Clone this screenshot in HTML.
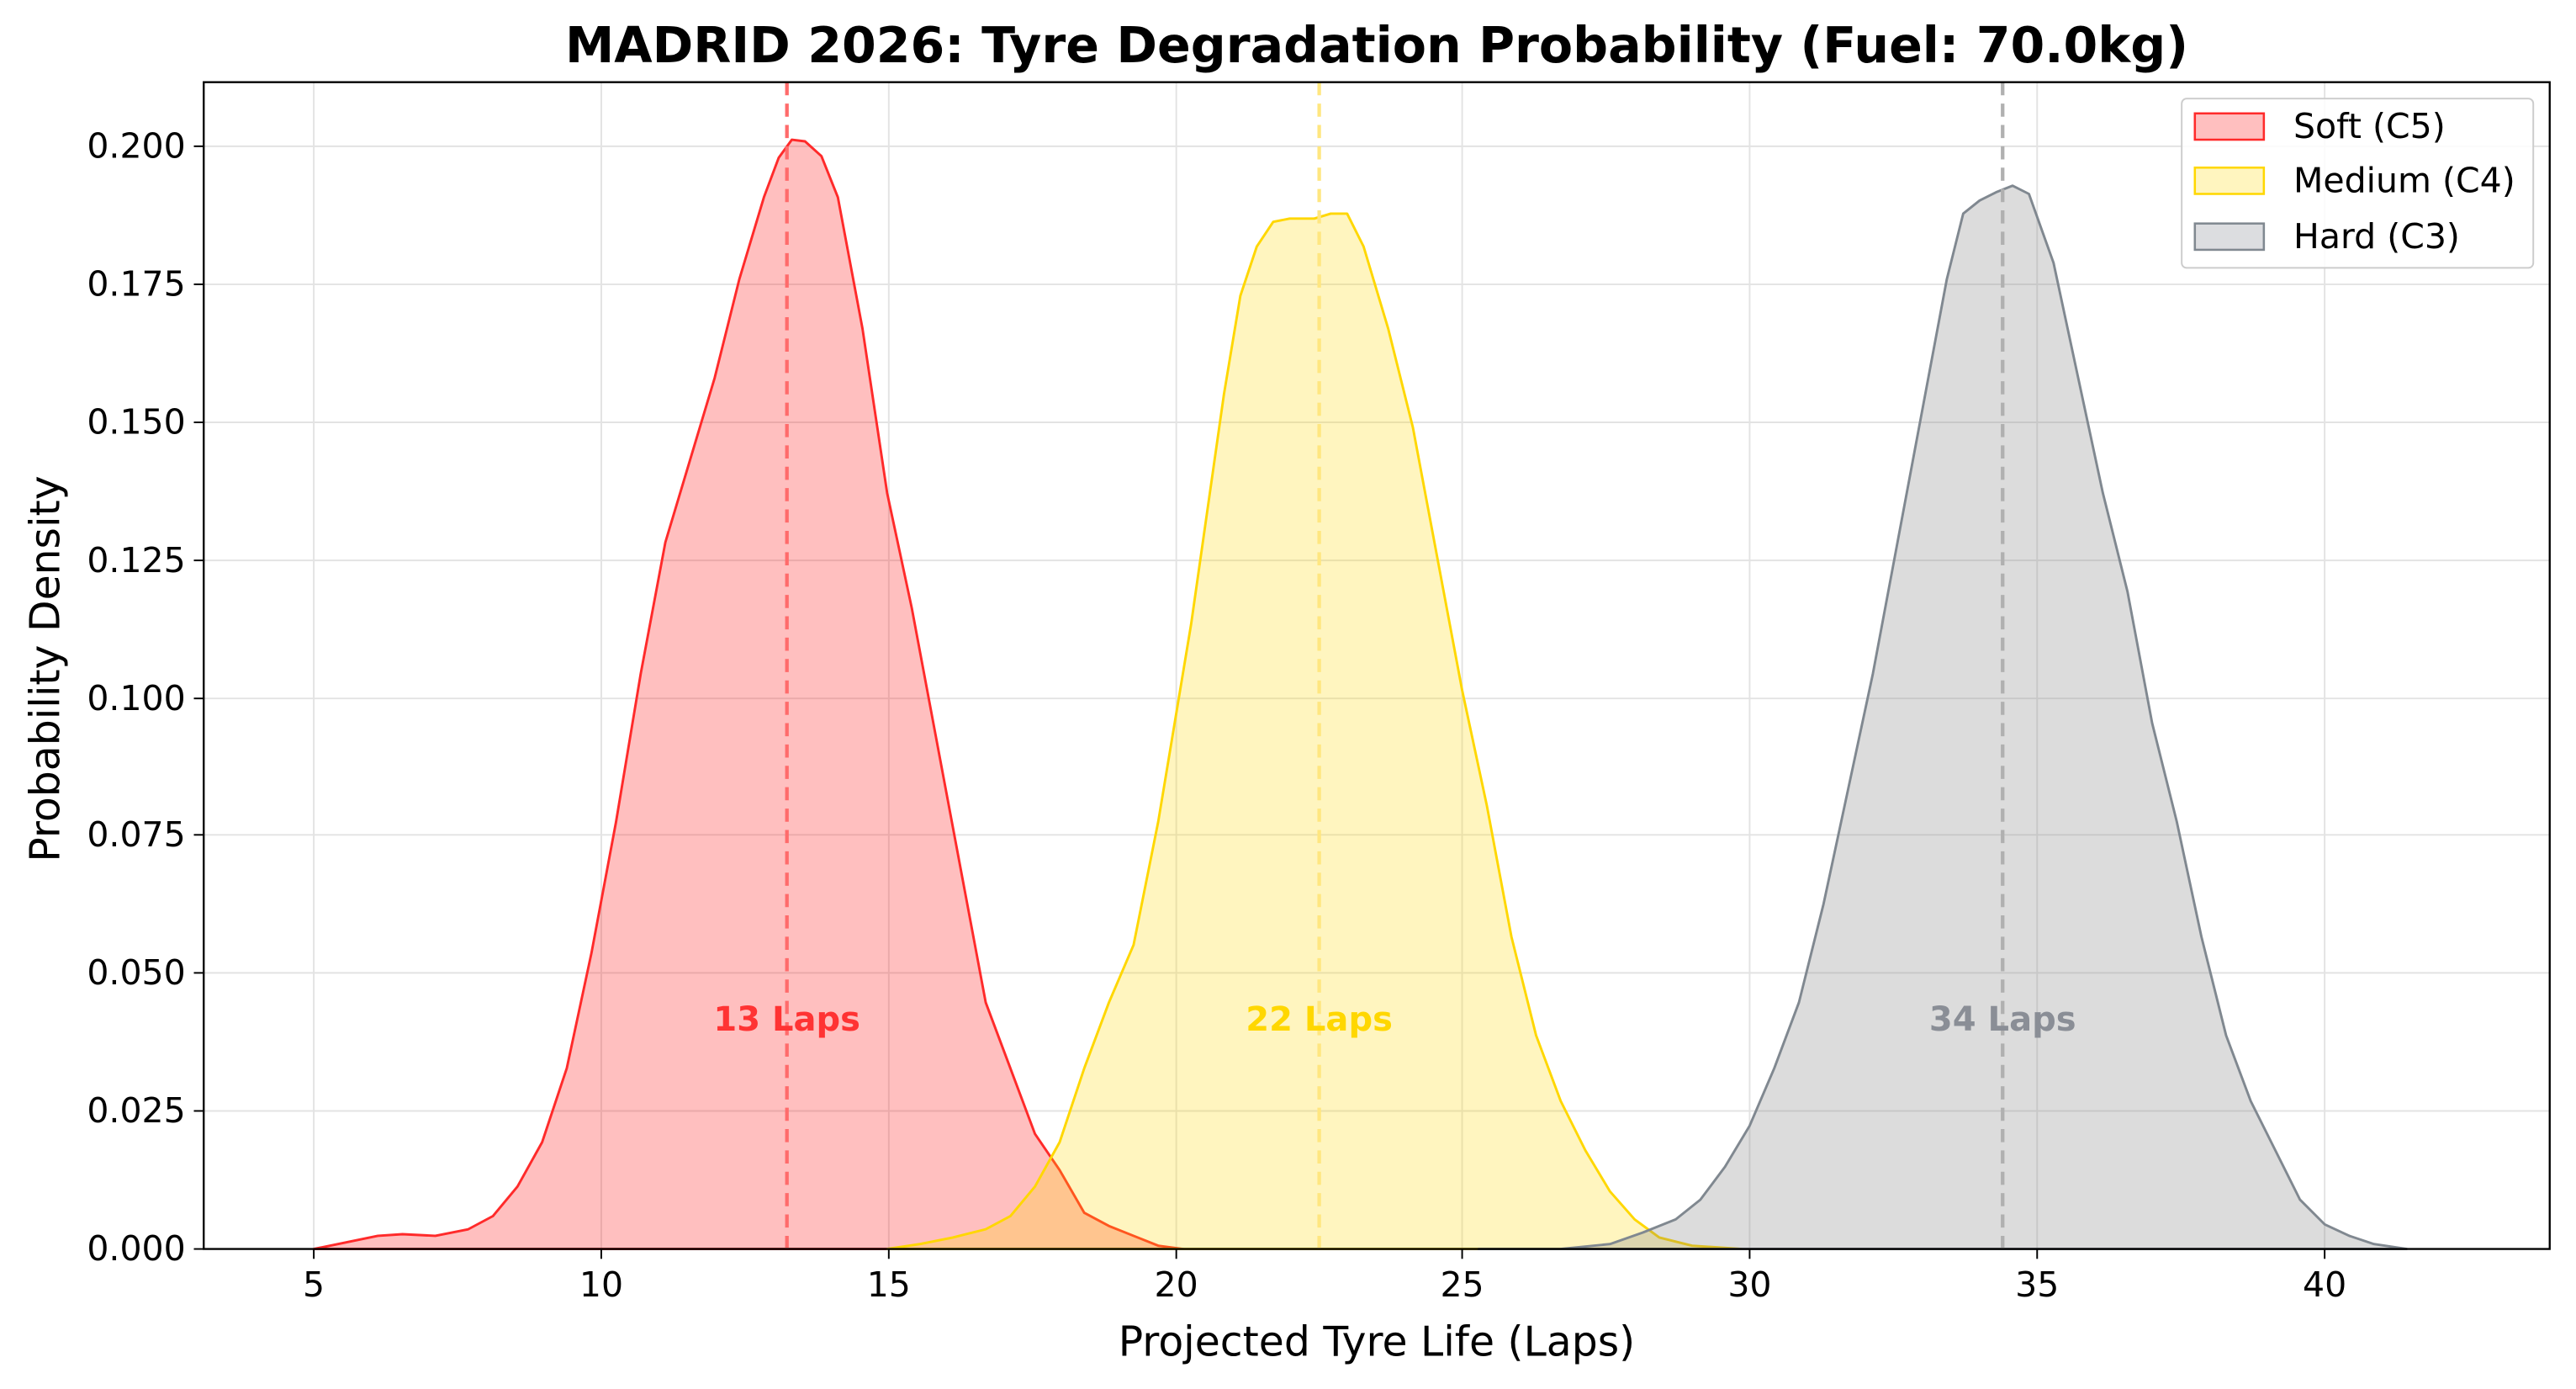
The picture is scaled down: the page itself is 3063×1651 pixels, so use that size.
<!DOCTYPE html>
<html><head><meta charset="utf-8"><style>html,body{margin:0;padding:0;background:#fff}svg{display:block}</style></head>
<body>
<svg width="3063" height="1651" viewBox="0 0 1568 845.2" preserveAspectRatio="none" xmlns="http://www.w3.org/2000/svg" font-family="'DejaVu Sans','Liberation Sans',sans-serif">
<rect width="1568" height="846" fill="#fff"/>
<g stroke="#e3e3e3" stroke-width="1">
<line x1="191" y1="50" x2="191" y2="760"/><line x1="366" y1="50" x2="366" y2="760"/><line x1="541" y1="50" x2="541" y2="760"/><line x1="716" y1="50" x2="716" y2="760"/><line x1="890" y1="50" x2="890" y2="760"/><line x1="1065" y1="50" x2="1065" y2="760"/><line x1="1240" y1="50" x2="1240" y2="760"/><line x1="1415" y1="50" x2="1415" y2="760"/>
<line x1="124" y1="676" x2="1552" y2="676"/><line x1="124" y1="592" x2="1552" y2="592"/><line x1="124" y1="508" x2="1552" y2="508"/><line x1="124" y1="425" x2="1552" y2="425"/><line x1="124" y1="341" x2="1552" y2="341"/><line x1="124" y1="257" x2="1552" y2="257"/><line x1="124" y1="173" x2="1552" y2="173"/><line x1="124" y1="89" x2="1552" y2="89"/>
</g>
<polygon fill="rgba(255,0,0,0.25)" stroke="#ff2a2a" stroke-width="1.5" stroke-linejoin="round" points="191,760 230,752 245,751 265,752 285,748 300,740 315,722 330,695 345,650 360,580 375,500 390,410 405,330 420,280 435,230 450,170 465,120 474,96 482,85 490,86 500,95 510,120 525,200 540,300 555,370 570,450 585,530 600,610 615,650 630,690 645,712 660,738 675,746 690,752 705,758 720,760"/>
<polygon fill="rgba(255,215,0,0.25)" stroke="#ffd700" stroke-width="1.5" stroke-linejoin="round" points="540,760 560,757 580,753 600,748 615,740 630,722 645,695 660,650 675,610 690,575 705,500 715,440 725,380 735,310 745,240 755,180 765,150 775,135 785,133 800,133 810,130 820,130 830,150 845,200 860,260 875,340 890,420 905,490 920,570 935,630 950,670 965,700 980,725 995,742 1010,753 1030,758 1060,760"/>
<polygon fill="rgba(128,128,128,0.28)" stroke="#808890" stroke-width="1.5" stroke-linejoin="round" points="900,760 950,760 980,757 1000,750 1020,742 1035,730 1050,710 1065,685 1080,650 1095,610 1110,550 1125,480 1140,410 1155,330 1170,250 1185,170 1195,130 1205,122 1215,117 1225,113 1235,118 1250,160 1265,230 1280,300 1295,360 1310,440 1325,500 1340,570 1355,630 1370,670 1385,700 1400,730 1415,745 1430,752 1445,757 1465,760"/>
<g stroke-width="2.2" stroke-dasharray="8,5">
<line x1="479" y1="50" x2="479" y2="760" stroke="#ff6b6b"/>
<line x1="803" y1="50" x2="803" y2="760" stroke="#ffe680"/>
<line x1="1219" y1="50" x2="1219" y2="760" stroke="#b0b0b0"/>
</g>
<g font-size="20.5" font-weight="bold" text-anchor="middle">
<text x="479" y="627" fill="#ff3333">13 Laps</text>
<text x="803" y="627" fill="#ffd700">22 Laps</text>
<text x="1219" y="627" fill="#8a8e96">34 Laps</text>
</g>
<rect x="124" y="50" width="1428" height="710" fill="none" stroke="#000" stroke-width="1.2"/>
<g stroke="#000" stroke-width="1">
<line x1="191" y1="760" x2="191" y2="766"/><line x1="366" y1="760" x2="366" y2="766"/><line x1="541" y1="760" x2="541" y2="766"/><line x1="716" y1="760" x2="716" y2="766"/><line x1="890" y1="760" x2="890" y2="766"/><line x1="1065" y1="760" x2="1065" y2="766"/><line x1="1240" y1="760" x2="1240" y2="766"/><line x1="1415" y1="760" x2="1415" y2="766"/>
<line x1="118" y1="760" x2="124" y2="760"/><line x1="118" y1="676" x2="124" y2="676"/><line x1="118" y1="592" x2="124" y2="592"/><line x1="118" y1="508" x2="124" y2="508"/><line x1="118" y1="425" x2="124" y2="425"/><line x1="118" y1="341" x2="124" y2="341"/><line x1="118" y1="257" x2="124" y2="257"/><line x1="118" y1="173" x2="124" y2="173"/><line x1="118" y1="89" x2="124" y2="89"/>
</g>
<g font-size="21" text-anchor="middle" fill="#000">
<text x="191" y="789">5</text><text x="366" y="789">10</text><text x="541" y="789">15</text><text x="716" y="789">20</text><text x="890" y="789">25</text><text x="1065" y="789">30</text><text x="1240" y="789">35</text><text x="1415" y="789">40</text>
</g>
<g font-size="21" text-anchor="end" fill="#000">
<text x="113" y="767">0.000</text><text x="113" y="683">0.025</text><text x="113" y="599">0.050</text><text x="113" y="515">0.075</text><text x="113" y="432">0.100</text><text x="113" y="348">0.125</text><text x="113" y="264">0.150</text><text x="113" y="180">0.175</text><text x="113" y="96">0.200</text>
</g>
<text x="838" y="825" font-size="25" text-anchor="middle">Projected Tyre Life (Laps)</text>
<text transform="translate(36,407) rotate(-90)" font-size="25" text-anchor="middle">Probability Density</text>
<text x="838" y="38" font-size="30" font-weight="bold" text-anchor="middle">MADRID 2026: Tyre Degradation Probability (Fuel: 70.0kg)</text>
<rect x="1328" y="60" width="214" height="103" rx="3" fill="#fff" fill-opacity="0.85" stroke="#ccc"/>
<rect x="1336" y="69" width="42" height="16" fill="#ffbfbf" stroke="#ff2a2a" stroke-width="1.3"/>
<rect x="1336" y="102" width="42" height="16" fill="#fff5bf" stroke="#ffd700" stroke-width="1.3"/>
<rect x="1336" y="136" width="42" height="16" fill="#dcdde0" stroke="#808890" stroke-width="1.3"/>
<g font-size="21" fill="#000">
<text x="1396" y="84">Soft (C5)</text><text x="1396" y="117">Medium (C4)</text><text x="1396" y="151">Hard (C3)</text>
</g>
</svg>
</body></html>
